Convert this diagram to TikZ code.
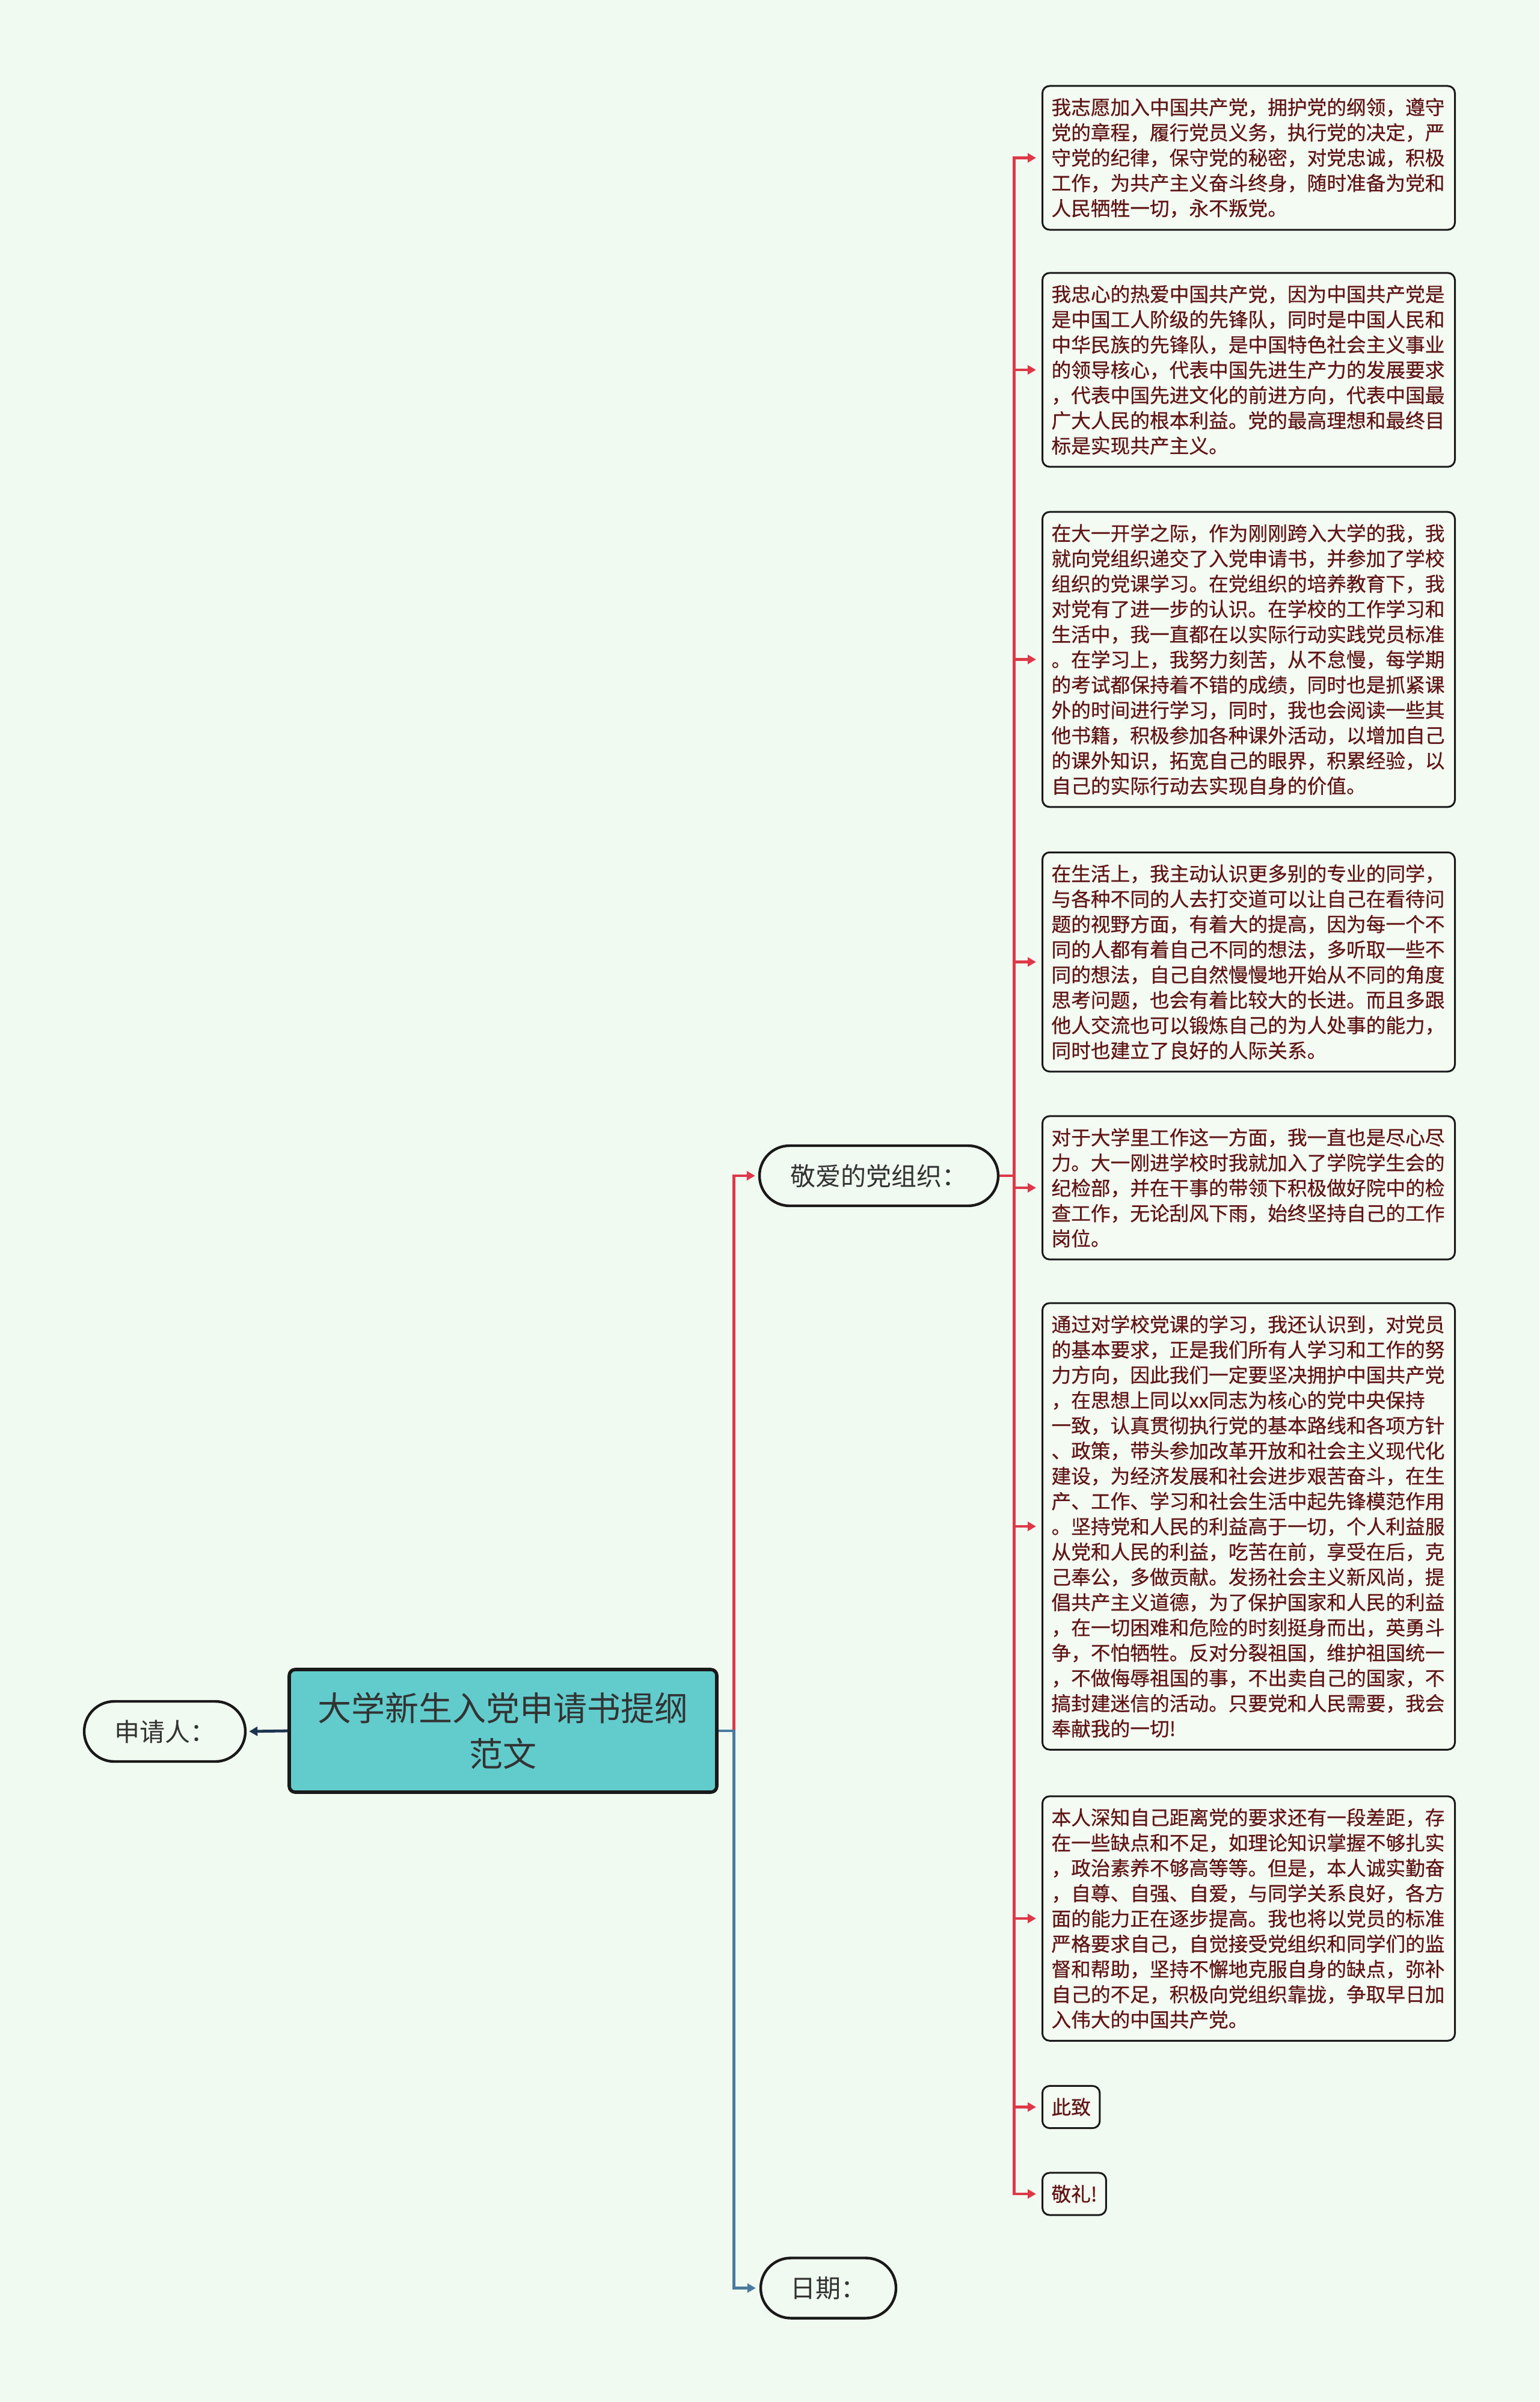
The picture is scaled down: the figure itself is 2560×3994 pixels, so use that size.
\documentclass[tikz,border=0pt]{standalone}
\usepackage{fontspec}
\setmainfont{Noto Sans CJK SC}
\newfontfamily\leaffont{Noto Sans CJK SC}[FakeBold=0.6]
\usepackage{xcolor}
\usetikzlibrary{arrows.meta}
\definecolor{bgmint}{RGB}{240,250,240}
\definecolor{rootteal}{RGB}{98,203,204}
\definecolor{linkred}{RGB}{222,56,72}
\definecolor{linkblue}{RGB}{74,122,160}
\definecolor{linknavy}{RGB}{30,53,82}
\definecolor{leaftext}{RGB}{96,22,22}
\definecolor{leaffill}{RGB}{243,251,242}

\begin{document}
\begin{tikzpicture}[x=0.5pt,y=-0.5pt,
		rootbox/.style={draw=black!90,line width=2.8pt,rounded corners=5pt,fill=rootteal,text=black!80,text width=310pt,align=center,minimum width=355.5pt,minimum height=102pt,font=\fontsize{28}{38}\selectfont},
		branch/.style={draw=black!90,line width=2.2pt,rounded corners=25pt,fill=bgmint,text=black!80,minimum height=50pt,font=\fontsize{21}{25}\selectfont},
		leaf/.style={draw=black!90,line width=1.5pt,rounded corners=6pt,fill=leaffill,text=leaftext,inner xsep=7.5pt,inner ysep=10pt,anchor=west,font=\leaffont\fontsize{16.35}{21}\selectfont},
		longleaf/.style={leaf,text width=328pt,align=left},
		tip/.style={-{Triangle[length=7pt,width=7.5pt]}},
		redarrow/.style={tip,draw=linkred,line width=2.4pt},
		bluearrow/.style={tip,draw=linkblue,line width=2.4pt},
		navyarrow/.style={tip,draw=linknavy,line width=2.4pt}]
				\useasboundingbox (0,0) rectangle (2560,3994);
				\fill[bgmint] (0,0) rectangle (2560,3994);
				\node[rootbox] (root) at (836.5,2878) {大学新生入党申请书提纲\\范文};
				\node[branch,minimum width=134pt] (applicant) at (274,2879) {申请人：};
				\node[branch,minimum width=198.5pt] (dearorg) at (1461.5,1955) {敬爱的党组织：};
				\node[branch,minimum width=112.5pt] (datenode) at (1377.5,3804.5) {日期：};
				\node[longleaf] (p1) at (1732,262.5) {我志愿加入中国共产党，拥护党的纲领，遵守\\党的章程，履行党员义务，执行党的决定，严\\守党的纪律，保守党的秘密，对党忠诚，积极\\工作，为共产主义奋斗终身，随时准备为党和\\人民牺牲一切，永不叛党。};
				\node[longleaf] (p2) at (1732,615) {我忠心的热爱中国共产党，因为中国共产党是\\是中国工人阶级的先锋队，同时是中国人民和\\中华民族的先锋队，是中国特色社会主义事业\\的领导核心，代表中国先进生产力的发展要求\\，代表中国先进文化的前进方向，代表中国最\\广大人民的根本利益。党的最高理想和最终目\\标是实现共产主义。};
				\node[longleaf] (p3) at (1732,1096.5) {在大一开学之际，作为刚刚跨入大学的我，我\\就向党组织递交了入党申请书，并参加了学校\\组织的党课学习。在党组织的培养教育下，我\\对党有了进一步的认识。在学校的工作学习和\\生活中，我一直都在以实际行动实践党员标准\\。在学习上，我努力刻苦，从不怠慢，每学期\\的考试都保持着不错的成绩，同时也是抓紧课\\外的时间进行学习，同时，我也会阅读一些其\\他书籍，积极参加各种课外活动，以增加自己\\的课外知识，拓宽自己的眼界，积累经验，以\\自己的实际行动去实现自身的价值。};
				\node[longleaf] (p4) at (1732,1599.5) {在生活上，我主动认识更多别的专业的同学，\\与各种不同的人去打交道可以让自己在看待问\\题的视野方面，有着大的提高，因为每一个不\\同的人都有着自己不同的想法，多听取一些不\\同的想法，自己自然慢慢地开始从不同的角度\\思考问题，也会有着比较大的长进。而且多跟\\他人交流也可以锻炼自己的为人处事的能力，\\同时也建立了良好的人际关系。};
				\node[longleaf] (p5) at (1732,1975) {对于大学里工作这一方面，我一直也是尽心尽\\力。大一刚进学校时我就加入了学院学生会的\\纪检部，并在干事的带领下积极做好院中的检\\查工作，无论刮风下雨，始终坚持自己的工作\\岗位。};
				\node[longleaf] (p6) at (1732,2538) {通过对学校党课的学习，我还认识到，对党员\\的基本要求，正是我们所有人学习和工作的努\\力方向，因此我们一定要坚决拥护中国共产党\\，在思想上同以xx同志为核心的党中央保持\\一致，认真贯彻执行党的基本路线和各项方针\\、政策，带头参加改革开放和社会主义现代化\\建设，为经济发展和社会进步艰苦奋斗，在生\\产、工作、学习和社会生活中起先锋模范作用\\。坚持党和人民的利益高于一切，个人利益服\\从党和人民的利益，吃苦在前，享受在后，克\\己奉公，多做贡献。发扬社会主义新风尚，提\\倡共产主义道德，为了保护国家和人民的利益\\，在一切困难和危险的时刻挺身而出，英勇斗\\争，不怕牺牲。反对分裂祖国，维护祖国统一\\，不做侮辱祖国的事，不出卖自己的国家，不\\搞封建迷信的活动。只要党和人民需要，我会\\奉献我的一切!};
				\node[longleaf] (p7) at (1732,3190) {本人深知自己距离党的要求还有一段差距，存\\在一些缺点和不足，如理论知识掌握不够扎实\\，政治素养不够高等等。但是，本人诚实勤奋\\，自尊、自强、自爱，与同学关系良好，各方\\面的能力正在逐步提高。我也将以党员的标准\\严格要求自己，自觉接受党组织和同学们的监\\督和帮助，坚持不懈地克服自身的缺点，弥补\\自己的不足，积极向党组织靠拢，争取早日加\\入伟大的中国共产党。};
				\node[leaf] (salute) at (1732,3503.5) {此致};
				\node[leaf] (regards) at (1732,3648) {敬礼!};
				\draw[navyarrow,shorten >=2pt] (root.west) -- (applicant.east);
				\draw[redarrow,shorten >=2.5pt] (root.east) -- ++(26,0) |- (dearorg.west);
				\draw[bluearrow,shorten >=3pt] (root.east) -- ++(26,0) |- (datenode.west);
				\foreach \leaf in {p1,p2,p3,p4,p5,p6,p7,salute,regards}
					\draw[redarrow,shorten >=4.5pt] (dearorg.east) -- ++(24,0) |- (\leaf.west);
			\end{tikzpicture}
\end{document}
